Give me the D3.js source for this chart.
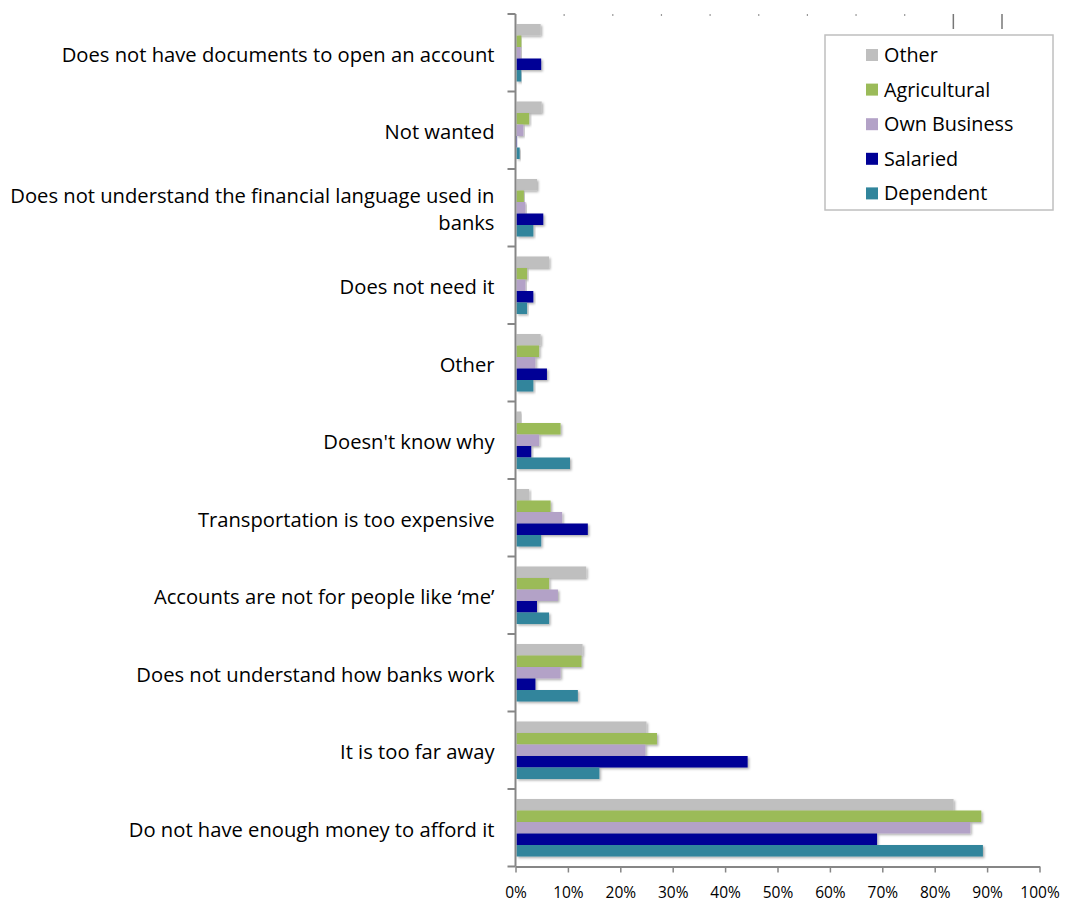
<!DOCTYPE html>
<html><head><meta charset="utf-8">
<script src="https://cdn.jsdelivr.net/npm/d3@7"></script>
<style>
html,body{margin:0;padding:0;background:#fff;}
svg{display:block;font-family:"Open Sans",sans-serif;}
</style></head>
<body>
<svg id="chart" width="1081" height="902"></svg>
<script>
const categories = [
  "Does not have documents to open an account",
  "Not wanted",
  "Does not understand the financial language used in banks",
  "Does not need it",
  "Other",
  "Doesn't know why",
  "Transportation is too expensive",
  "Accounts are not for people like \u2018me\u2019",
  "Does not understand how banks work",
  "It is too far away",
  "Do not have enough money to afford it"
];
const seriesNames = ["Other", "Agricultural", "Own Business", "Salaried", "Dependent"];
const seriesColors = ["#bfbfbf", "#9bbb59", "#b3a2c7", "#000096", "#31859c"];
const otherVals        = [4.8, 5.0, 4.1, 6.4, 4.8, 1.1, 2.6, 13.5, 12.8, 25.0, 83.6];
const agriculturalVals = [1.1, 2.6, 1.6, 2.2, 4.5, 8.6, 6.7, 6.4, 12.6, 27.0, 88.9];
const ownBusinessVals  = [1.0, 1.5, 1.9, 1.9, 3.8, 4.5, 8.9, 8.1, 8.6, 24.8, 86.8];
const salariedVals     = [4.9, 0.3, 5.3, 3.4, 6.0, 3.0, 13.8, 4.1, 3.8, 44.3, 69.0];
const dependentVals    = [1.1, 0.8, 3.4, 2.2, 3.4, 10.4, 4.9, 6.4, 11.9, 16.0, 89.2];
const seriesValues = [otherVals, agriculturalVals, ownBusinessVals, salariedVals, dependentVals];
const xTickValues = [0,10,20,30,40,50,60,70,80,90,100];

const svg = d3.select("#chart");
const defs = svg.append("defs");
const f = defs.append("filter").attr("id","shadow").attr("x","-5%").attr("y","-30%").attr("width","120%").attr("height","180%");
f.append("feDropShadow").attr("dx",1.5).attr("dy",1.5).attr("stdDeviation",1.3).attr("flood-color","#000").attr("flood-opacity",0.32);

const x0 = 515.5, x100 = 1039.5, yTop = 14, yBot = 866.5;
const x = d3.scaleLinear().domain([0,100]).range([x0, x100]);
const y = d3.scaleBand().domain(categories).range([yTop, yBot]).paddingInner(0.258).paddingOuter(0.129);
const ys = d3.scaleBand().domain(seriesNames).range([0, y.bandwidth()]).padding(0);

const axisColor = "#868686";

// bars
const groups = svg.append("g").selectAll("g").data(categories).join("g")
  .attr("transform", d => `translate(0,${y(d)})`);
groups.selectAll("rect")
  .data((c, i) => seriesNames.map((s, j) => ({s, j, v: seriesValues[j][i]})))
  .join("rect")
  .attr("x", x(0) + 1)
  .attr("y", d => ys(d.s))
  .attr("width", d => Math.max(0, x(d.v) - x(0) - 1))
  .attr("height", ys.bandwidth())
  .attr("fill", d => seriesColors[d.j])
  .attr("filter", "url(#shadow)");

// y axis with band-boundary ticks
const yBoundaries = d3.range(categories.length + 1).map(i => yTop + i * y.step());
svg.append("line").attr("x1", x0).attr("x2", x0).attr("y1", yTop).attr("y2", yBot)
  .attr("stroke", axisColor).attr("stroke-width", 2);
svg.append("g").selectAll("line").data(yBoundaries).join("line")
  .attr("x1", x0 - 8).attr("x2", x0).attr("y1", d => d).attr("y2", d => d)
  .attr("stroke", axisColor).attr("stroke-width", 2);

// x axis
const xAxis = d3.axisBottom(x).tickValues(xTickValues).tickFormat(d => d + "%").tickSize(6).tickSizeOuter(0);
const gx = svg.append("g").attr("transform", `translate(0,${yBot})`).call(xAxis);
gx.select(".domain").attr("stroke", axisColor).attr("stroke-width", 2);
gx.selectAll(".tick line").attr("stroke", axisColor).attr("stroke-width", 1.5);
gx.selectAll(".tick text").attr("fill", "#000").attr("font-size", 15.5).attr("y", 15).attr("dy", "1.05em")
  .attr("font-family", "'Open Sans', sans-serif");

// faint top ticks
const xTop = d3.scaleLinear().domain([0,10]).range([x0, 1002]);
const topTicks = d3.range(1, 11);
svg.append("g").selectAll("line").data(topTicks).join("line")
  .attr("x1", d => xTop(d)).attr("x2", d => xTop(d))
  .attr("y1", 14).attr("y2", d => d >= 9 ? 29 : 16)
  .attr("stroke", d => d >= 9 ? "#777" : "#999").attr("stroke-width", d => d >= 9 ? 1.5 : 1.2);

// category labels
const labelMax = 488;
const lbl = svg.append("g").selectAll("text").data(categories).join("text")
  .attr("x", x0 - 21)
  .attr("text-anchor", "end")
  .attr("font-size", 20.2)
  .attr("fill", "#000");
lbl.each(function(d) {
  const t = d3.select(this);
  const words = d.split(" ");
  let lines = [], cur = [];
  const tmp = t.append("tspan");
  words.forEach(w => {
    cur.push(w);
    tmp.text(cur.join(" "));
    if (tmp.node().getComputedTextLength() > labelMax && cur.length > 1) {
      cur.pop(); lines.push(cur.join(" ")); cur = [w];
    }
  });
  lines.push(cur.join(" "));
  tmp.remove();
  const lh = 27;
  const cy = y(d) + y.bandwidth() / 2 + 2;
  lines.forEach((ln, k) => {
    t.append("tspan").attr("x", x0 - 21)
      .attr("y", cy + (k - (lines.length - 1) / 2) * lh)
      .attr("dy", "0.35em").text(ln);
  });
});

// legend
const lg = svg.append("g");
lg.append("rect").attr("x", 825).attr("y", 35).attr("width", 228).attr("height", 175)
  .attr("fill", "#fff").attr("stroke", "#bfbfbf").attr("stroke-width", 1.5);
const li = lg.selectAll("g.item").data(seriesNames).join("g").attr("class", "item")
  .attr("transform", (d, i) => `translate(866,${55 + i * 34.6})`);
li.append("rect").attr("x", 0).attr("y", -6).attr("width", 12).attr("height", 12)
  .attr("fill", (d, i) => seriesColors[i]);
li.append("text").attr("x", 18).attr("y", 0).attr("dy", "0.35em")
  .attr("font-size", 19.8).attr("fill", "#000").text(d => d);
</script>
</body></html>
